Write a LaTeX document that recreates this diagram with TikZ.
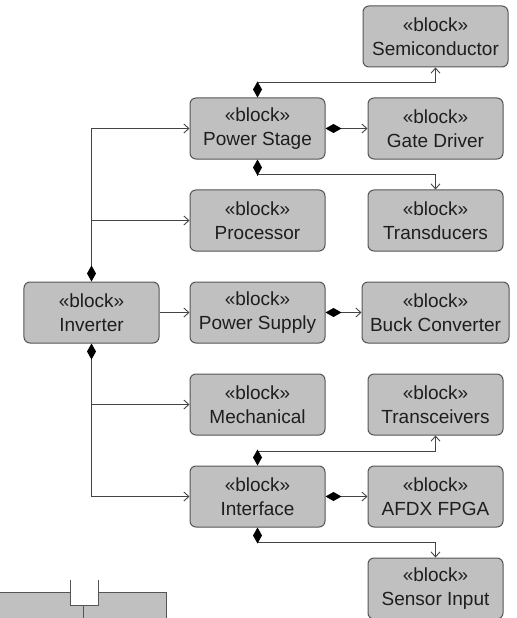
\documentclass[tikz,border=0pt]{standalone}
\usepackage{fontspec}
\setmainfont{Liberation Sans}
\usetikzlibrary{arrows.meta}
\definecolor{blockfill}{HTML}{C0C0C0}
\definecolor{blockline}{HTML}{555555}
\definecolor{wire}{HTML}{444444}
\definecolor{ink}{HTML}{1E1E1E}
\begin{document}
\begin{tikzpicture}[x=1bp,y=-1bp,
  block/.style={draw=blockline, fill=blockfill, line width=1bp, rounded corners=6bp,
    minimum width=135bp, minimum height=61bp, inner sep=0pt, align=center,
    text=ink, font=\fontsize{19bp}{24bp}\selectfont},
  wide/.style={minimum width=145bp},
  assoc/.style={draw=wire, line width=0.9bp, -{Straight Barb[length=5bp,width=9bp]}},
  comp/.style={draw=wire, line width=0.9bp,
    {Diamond[length=16bp,width=9bp,fill=black,color=black]}-{Straight Barb[length=5bp,width=9bp]}},
]
\useasboundingbox (0,0) rectangle (517,618);

% blocks
\node[block, wide] (semi)  at (435.5, 36.5)  {«block»\\Semiconductor};
\node[block] (pstage) at (257.5,128.5) {«block»\\Power Stage};
\node[block] (gate)   at (435.5,128.5) {«block»\\Gate Driver};
\node[block] (proc)   at (257.5,220.5) {«block»\\Processor};
\node[block] (trans)  at (435.5,220.5) {«block»\\Transducers};
\node[block] (inv)    at (91.5,312.5)  {«block»\\Inverter};
\node[block] (psu)    at (257.5,312.5) {«block»\\Power Supply};
\node[block, minimum width=147bp] (buck) at (435.5,312.5) {«block»\\Buck Converter};
\node[block] (mech)   at (257.5,404.5) {«block»\\Mechanical};
\node[block] (xcvr)   at (435.5,404.5) {«block»\\Transceivers};
\node[block] (iface)  at (257.5,496.5) {«block»\\Interface};
\node[block] (afdx)   at (435.5,496.5) {«block»\\AFDX FPGA};
\node[block] (sensor) at (435.5,588.5) {«block»\\Sensor Input};

% branch points on the inverter trunks
\coordinate (tapProc) at (inv.north |- proc.west);
\coordinate (tapMech) at (inv.south |- mech.west);

% inverter composition
\draw[comp] (inv.north) |- (pstage.west);
\draw[assoc] (tapProc) -- (proc.west);
\draw[comp] (inv.south) |- (iface.west);
\draw[assoc] (tapMech) -- (mech.west);
\draw[assoc] (inv.east) -- (psu.west);

% power supply
\draw[comp] (psu.east) -- (buck.west);

% power stage
\draw[comp] (pstage.north) -- (pstage.north |- 0,82.5) -| (semi.south);
\draw[comp] (pstage.east) -- (gate.west);
\draw[comp] (pstage.south) -- (pstage.south |- 0,174.5) -| (trans.north);

% interface
\draw[comp] (iface.north) -- (iface.north |- 0,451) -| (xcvr.south);
\draw[comp] (iface.east) -- (afdx.west);
\draw[comp] (iface.south) -- (iface.south |- 0,542) -| (sensor.north);

% partial block at the lower left edge
\fill[blockfill] (0,592) -- (70,592) -- (70,605) -- (98,605) -- (98,592) -- (166,592) -- (166,620) -- (0,620) -- cycle;
\draw[blockline, line width=1bp] (0,592) -- (70,592);
\draw[blockline, line width=1bp] (70,580) -- (70,605) -- (98,605) -- (98,580);
\draw[blockline, line width=1bp] (98,592) -- (166,592) -- (166,620);
\draw[blockline, line width=1bp] (83,605) -- (83,620);
\end{tikzpicture}
\end{document}
